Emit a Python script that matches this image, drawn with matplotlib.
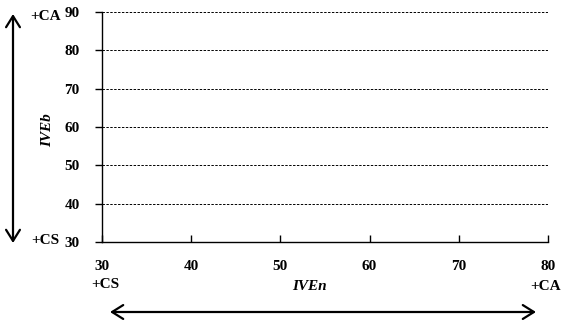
import matplotlib
matplotlib.use("Agg")
import matplotlib.pyplot as plt
from matplotlib.patches import FancyArrowPatch

# Axis ranges and tick values
x_ticks = [30, 40, 50, 60, 70, 80]
y_ticks = [30, 40, 50, 60, 70, 80, 90]
x_label = "IVEn"
y_label = "IVEb"
low_label = "+CS"
high_label = "+CA"

plt.rcParams['font.family'] = ['Liberation Serif', 'DejaVu Serif']
plt.rcParams['font.weight'] = 'bold'
FS = 11

fig = plt.figure(figsize=(5.61, 3.23), dpi=100)
W, H = 561, 323
ax = fig.add_axes([102 / W, 1 - 242 / H, (548 - 102) / W, (242 - 12) / H])

ax.set_xlim(x_ticks[0], x_ticks[-1])
ax.set_ylim(y_ticks[0], y_ticks[-1])
ax.set_xticks(x_ticks)
ax.set_yticks(y_ticks)
ax.tick_params(axis='x', direction='in', length=5, width=1, pad=13, labelsize=FS)
ax.tick_params(axis='y', direction='out', length=5, width=1, pad=11, labelsize=FS)
for lab in ax.get_xticklabels() + ax.get_yticklabels():
    lab.set_fontweight('bold')

for side in ['top', 'right']:
    ax.spines[side].set_visible(False)
for side in ['left', 'bottom']:
    ax.spines[side].set_linewidth(1)

for yv in y_ticks[1:]:
    ax.axhline(yv, color='black', linestyle=(0, (2.5, 1.5)), linewidth=0.7)

# Axis titles
fig.text(48 / W, 1 - 130 / H, y_label, rotation=90, ha='center', va='center',
         fontsize=FS, fontweight='bold', fontstyle='italic')
fig.text(309 / W, 1 - 286 / H, x_label, ha='center', va='center',
         fontsize=FS, fontweight='bold', fontstyle='italic')

# End labels
fig.text(46 / W, 1 - 16 / H, high_label, ha='center', va='center', fontsize=FS, fontweight='bold')
fig.text(45 / W, 1 - 240 / H, low_label, ha='center', va='center', fontsize=FS, fontweight='bold')
fig.text(105 / W, 1 - 285 / H, low_label, ha='center', va='center', fontsize=FS, fontweight='bold')
fig.text(546 / W, 1 - 286 / H, high_label, ha='center', va='center', fontsize=FS, fontweight='bold')

# Double-headed arrows
arrow_kw = dict(arrowstyle='<->,head_length=0.8,head_width=0.5', color='black',
                linewidth=1.6, mutation_scale=10, shrinkA=0, shrinkB=0)
fig.patches.append(FancyArrowPatch(
    (13 / W, 1 - 243 / H), (13 / W, 1 - 14 / H), transform=fig.transFigure, **arrow_kw))
fig.patches.append(FancyArrowPatch(
    (110 / W, 1 - 312 / H), (536 / W, 1 - 312 / H), transform=fig.transFigure, **arrow_kw))

fig.savefig("out.png", dpi=100)
